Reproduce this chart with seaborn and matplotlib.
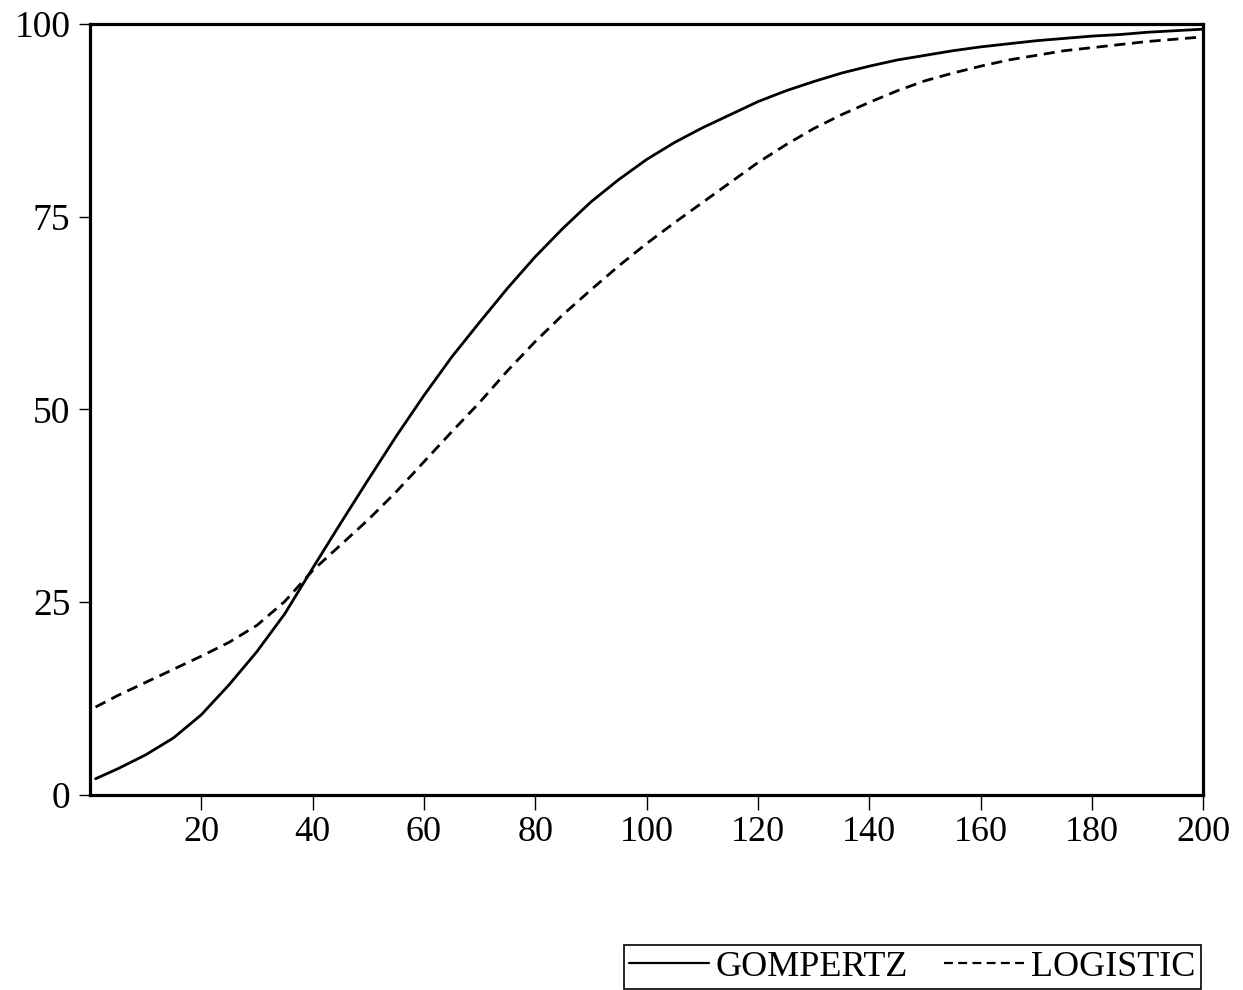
import matplotlib
matplotlib.use("Agg")
import matplotlib.pyplot as plt
import seaborn as sns
import pandas as pd
from matplotlib.lines import Line2D

# ---- data ----
t_values = [1, 5, 10, 15, 20, 25, 30, 35, 40, 45, 50, 55, 60, 65, 70, 75, 80,
            85, 90, 95, 100, 105, 110, 115, 120, 125, 130, 135, 140, 145, 150,
            155, 160, 165, 170, 175, 180, 185, 190, 195, 200]
gompertz = [2.1, 3.4, 5.2, 7.4, 10.4, 14.3, 18.6, 23.5, 29.4, 35.2, 40.9,
            46.5, 51.8, 56.8, 61.3, 65.7, 69.8, 73.5, 76.9, 79.8, 82.4,
            84.6, 86.5, 88.2, 89.9, 91.3, 92.5, 93.6, 94.5, 95.3, 95.9,
            96.5, 97.0, 97.4, 97.8, 98.1, 98.4, 98.6, 98.9, 99.1, 99.3]
logistic = [11.4, 12.9, 14.6, 16.3, 18.0, 19.8, 22.0, 25.1, 29.1, 32.4, 35.7,
            39.3, 43.2, 47.1, 50.9, 55.0, 58.8, 62.3, 65.5, 68.6, 71.5,
            74.2, 76.8, 79.4, 82.0, 84.3, 86.4, 88.2, 89.8, 91.3, 92.6,
            93.6, 94.5, 95.3, 95.9, 96.5, 96.9, 97.3, 97.7, 98.0, 98.3]
series_names = ["GOMPERTZ", "LOGISTIC"]
x_ticks = [20, 40, 60, 80, 100, 120, 140, 160, 180, 200]
y_ticks = [0, 25, 50, 75, 100]

df = pd.DataFrame({
    "t": t_values * 2,
    "value": gompertz + logistic,
    "model": [series_names[0]] * len(t_values) + [series_names[1]] * len(t_values),
})

sns.set_theme(style="ticks")
plt.rcParams["font.family"] = ["Liberation Serif", "DejaVu Serif"]
plt.rcParams["text.color"] = "black"

fig = plt.figure(figsize=(12.43, 9.9), dpi=100)
ax = fig.add_axes([0.0724, 0.197, 0.8956, 0.779])

sns.lineplot(data=df, x="t", y="value", hue="model", style="model",
             palette={series_names[0]: "black", series_names[1]: "black"},
             dashes={series_names[0]: "", series_names[1]: (4, 2.4)},
             linewidth=2.0, ax=ax, legend=False)

ax.set_xlim(0, 200)
ax.set_ylim(0, 100)
ax.set_xticks(x_ticks)
ax.set_yticks(y_ticks)
ax.set_xticklabels([str(v) for v in x_ticks])
ax.set_yticklabels([str(v) for v in y_ticks])
ax.set_xlabel("")
ax.set_ylabel("")

for sp in ax.spines.values():
    sp.set_visible(True)
    sp.set_linewidth(2.3)
    sp.set_color("black")

ax.tick_params(axis="x", direction="out", length=11, width=1.0, pad=4,
               labelsize=26, colors="black")
ax.tick_params(axis="y", direction="out", length=8, width=1.0, pad=6,
               labelsize=27, colors="black")

handles = [Line2D([0], [0], color="black", lw=1.6),
           Line2D([0], [0], color="black", lw=1.6, dashes=(4, 2.4))]
leg = fig.legend(handles, series_names, loc="lower right",
                 bbox_to_anchor=(0.966, 0.001), ncol=2, frameon=True,
                 fancybox=False, edgecolor="black", framealpha=1.0,
                 fontsize=26, handlelength=2.2, handletextpad=0.2,
                 columnspacing=1.0, borderpad=0.15, borderaxespad=0.0,
                 labelcolor="black")
leg.get_frame().set_linewidth(1.2)

fig.savefig("out.png", dpi=100, facecolor="white")
